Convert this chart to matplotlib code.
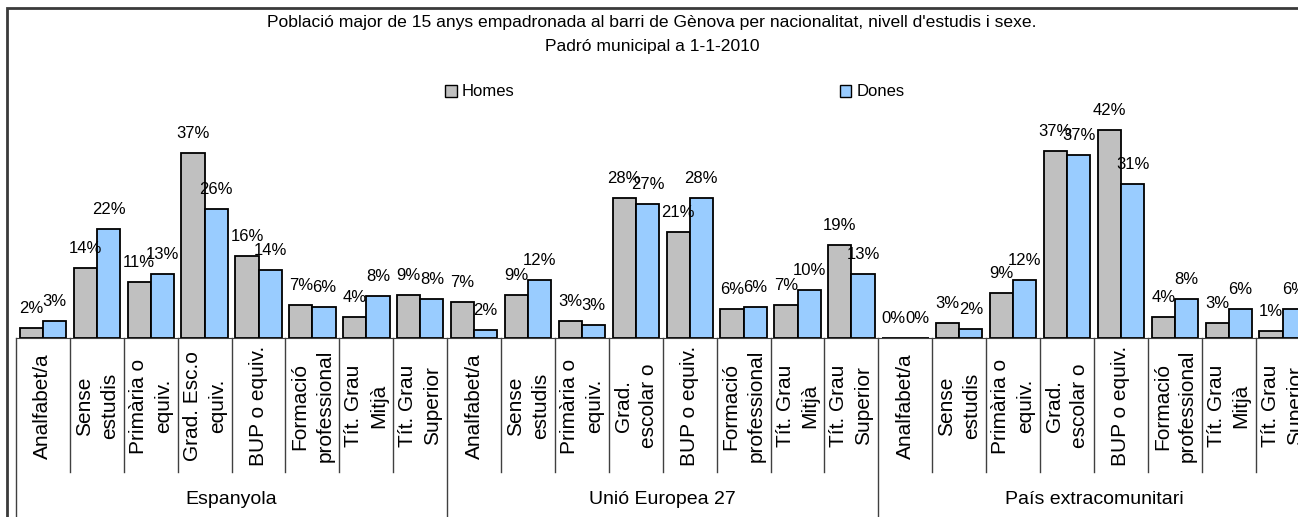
import matplotlib
matplotlib.use("Agg")
import matplotlib.pyplot as plt
import matplotlib.transforms as mtransforms
from matplotlib.patches import Rectangle, Patch

plt.rcParams['font.family'] = ['Liberation Sans', 'DejaVu Sans']

# data (% of population)
groups = ['Espanyola', 'Unió Europea 27', 'País extracomunitari']
levels = ['Analfabet/a', 'Sense\nestudis', 'Primària o\nequiv.', 'Grad. Esc.o\nequiv.',
          'BUP o equiv.', 'Formació\nprofessional', 'Tít. Grau\nMitjà', 'Tít. Grau\nSuperior']
levels_ue = ['Analfabet/a', 'Sense\nestudis', 'Primària o\nequiv.', 'Grad.\nescolar o',
             'BUP o equiv.', 'Formació\nprofessional', 'Tít. Grau\nMitjà', 'Tít. Grau\nSuperior']
homes_esp = [2.0, 14.0, 11.3, 37.1, 16.4, 6.7, 4.3, 8.6]
dones_esp = [3.4, 21.9, 12.9, 25.8, 13.7, 6.3, 8.4, 7.8]
homes_ue = [7.3, 8.6, 3.4, 28.1, 21.3, 5.9, 6.6, 18.7]
dones_ue = [1.6, 11.7, 2.7, 26.9, 28.1, 6.2, 9.7, 12.9]
homes_ext = [0.0, 3.1, 9.0, 37.4, 41.7, 4.3, 3.1, 1.4]
dones_ext = [0.0, 1.9, 11.7, 36.7, 30.8, 7.8, 5.8, 5.8]

homes = homes_esp + homes_ue + homes_ext
dones = dones_esp + dones_ue + dones_ext
cat_labels = levels + levels_ue + levels_ue

W, H = 1298, 517
fig = plt.figure(figsize=(W / 100, H / 100), dpi=100)

# chart border (right and bottom fall outside the picture)
fig.patches.append(Rectangle((7 / W, -0.2), 1.2, 1.2 - 8 / H, transform=fig.transFigure,
                             fill=False, edgecolor='#3a3a3a', linewidth=2))

n = len(homes)
cat_w = 53.9
ax = fig.add_axes([16 / W, (H - 338) / H, n * cat_w / W, 225 / H])
ax.set_xlim(0, n)
ax.set_ylim(0, 45)

bw = 0.43
xs = [i + 0.5 for i in range(n)]
ax.bar([x - bw / 2 for x in xs], homes, bw, color='#c0c0c0', edgecolor='black', linewidth=1.3, label='Homes')
ax.bar([x + bw / 2 for x in xs], dones, bw, color='#99ccff', edgecolor='black', linewidth=1.3, label='Dones')

for x, h, d in zip(xs, homes, dones):
    ax.annotate(f'{h:.0f}%', (x - bw / 2, h), xytext=(0, 14), textcoords='offset points',
                ha='center', va='center', fontsize=12)
    ax.annotate(f'{d:.0f}%', (x + bw / 2, d), xytext=(0, 14), textcoords='offset points',
                ha='center', va='center', fontsize=12)

for s in ['top', 'right', 'left']:
    ax.spines[s].set_visible(False)
ax.spines['bottom'].set_color('#404040')
ax.set_xticks([])
ax.set_yticks([])

trans = mtransforms.blended_transform_factory(ax.transData, ax.transAxes)
px = 1 / 225.0
for i in range(n + 1):
    if i % 8 == 0:
        ax.plot([i, i], [0, -200 * px], color='#404040', lw=1, transform=trans, clip_on=False)
    else:
        ax.plot([i, i], [0, -134 * px], color='#404040', lw=1, transform=trans, clip_on=False)

for x, lab in zip(xs, cat_labels):
    ax.text(x, -68 * px, lab, rotation=90, ha='center', va='center', multialignment='center',
            fontsize=15, linespacing=1.4, transform=trans)

for g, name in enumerate(groups):
    ax.text(g * 8 + 4, -162 * px, name, ha='center', va='center', fontsize=14, transform=trans)

fig.text(652 / W, 1 - 22 / H, "Població major de 15 anys empadronada al barri de Gènova per nacionalitat, nivell d'estudis i sexe.",
         ha='center', va='center', fontsize=12.6)
fig.text(652 / W, 1 - 46 / H, 'Padró municipal a 1-1-2010', ha='center', va='center', fontsize=12.6)

handles = [Patch(facecolor='#c0c0c0', edgecolor='black'), Patch(facecolor='#99ccff', edgecolor='black')]
fig.legend(handles, ['Homes', 'Dones'], loc='center', bbox_to_anchor=(675 / W, 1 - 92 / H), ncol=2,
           frameon=False, fontsize=12, handlelength=0.7, handleheight=0.7, handletextpad=0.3,
           columnspacing=19.5)

fig.savefig('out.png', dpi=100)
